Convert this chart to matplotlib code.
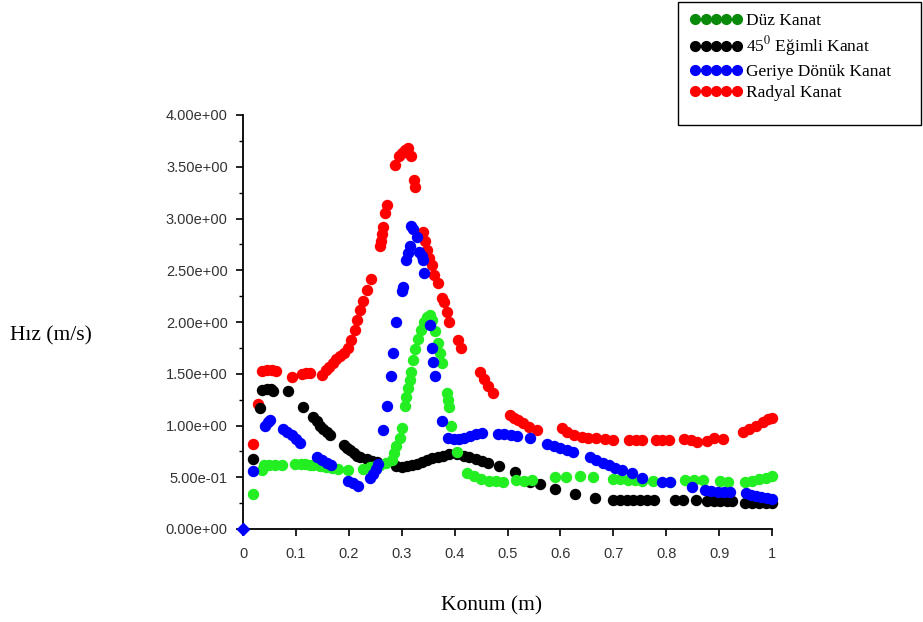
import matplotlib
matplotlib.use("Agg")
import matplotlib.pyplot as plt
from matplotlib.lines import Line2D
from matplotlib.patches import Rectangle
from matplotlib.ticker import FormatStrFormatter, MultipleLocator

plt.rcParams['mathtext.fontset'] = 'stix'

# Radyal Kanat
red_x = [0.018, 0.029, 0.036, 0.045, 0.054, 0.062, 0.092, 0.112, 0.120, 0.127,
         0.149, 0.156, 0.163, 0.170, 0.176, 0.183, 0.190, 0.198, 0.204, 0.211,
         0.216, 0.222, 0.227, 0.234, 0.242, 0.259, 0.261, 0.263, 0.265, 0.268,
         0.272, 0.287, 0.294, 0.300, 0.306, 0.312, 0.318, 0.323, 0.325, 0.340,
         0.344, 0.348, 0.352, 0.358, 0.362, 0.368, 0.376, 0.380, 0.385, 0.390,
         0.407, 0.413, 0.448, 0.455, 0.463, 0.473, 0.505, 0.512, 0.520, 0.530,
         0.540, 0.556, 0.603, 0.612, 0.625, 0.640, 0.652, 0.668, 0.685, 0.700,
         0.730, 0.742, 0.755, 0.780, 0.793, 0.806, 0.833, 0.846, 0.858, 0.878,
         0.890, 0.908, 0.945, 0.957, 0.970, 0.983, 0.993, 1.000]
red_y = [0.82, 1.21, 1.53, 1.54, 1.54, 1.53, 1.47, 1.50, 1.51, 1.51,
         1.49, 1.54, 1.57, 1.60, 1.64, 1.67, 1.70, 1.75, 1.83, 1.92,
         2.02, 2.12, 2.20, 2.31, 2.42, 2.73, 2.78, 2.85, 2.92, 3.05,
         3.13, 3.52, 3.60, 3.63, 3.66, 3.68, 3.60, 3.37, 3.30, 2.87,
         2.78, 2.70, 2.62, 2.55, 2.45, 2.38, 2.23, 2.19, 2.10, 2.00,
         1.83, 1.75, 1.52, 1.45, 1.38, 1.31, 1.10, 1.07, 1.05, 1.02,
         0.99, 0.96, 0.98, 0.94, 0.91, 0.89, 0.88, 0.88, 0.87, 0.86,
         0.86, 0.86, 0.86, 0.86, 0.86, 0.86, 0.87, 0.86, 0.84, 0.85,
         0.88, 0.87, 0.94, 0.97, 1.00, 1.03, 1.06, 1.07]

# 45 derece egimli kanat
black_x = [0.018, 0.032, 0.035, 0.045, 0.052, 0.057, 0.085, 0.114, 0.133, 0.140,
           0.146, 0.152, 0.159, 0.165, 0.190, 0.196, 0.203, 0.209, 0.215, 0.221,
           0.234, 0.244, 0.253, 0.290, 0.300, 0.310, 0.320, 0.328, 0.338, 0.348,
           0.358, 0.368, 0.378, 0.390, 0.404, 0.417, 0.428, 0.440, 0.452, 0.464,
           0.483, 0.514, 0.543, 0.561, 0.590, 0.628, 0.665, 0.700, 0.713, 0.726,
           0.738, 0.751, 0.763, 0.776, 0.817, 0.832, 0.856, 0.877, 0.890, 0.902,
           0.914, 0.924, 0.949, 0.962, 0.975, 0.988, 1.000]
black_y = [0.68, 1.17, 1.34, 1.35, 1.35, 1.33, 1.33, 1.18, 1.08, 1.04,
           1.00, 0.97, 0.94, 0.91, 0.81, 0.78, 0.76, 0.73, 0.71, 0.70,
           0.68, 0.66, 0.65, 0.61, 0.60, 0.61, 0.62, 0.63, 0.65, 0.67,
           0.69, 0.70, 0.71, 0.72, 0.72, 0.71, 0.70, 0.68, 0.66, 0.64,
           0.61, 0.55, 0.45, 0.43, 0.39, 0.34, 0.30, 0.28, 0.28, 0.28,
           0.28, 0.28, 0.28, 0.28, 0.28, 0.28, 0.28, 0.27, 0.27, 0.27,
           0.27, 0.27, 0.25, 0.25, 0.25, 0.25, 0.25]

# Duz kanat
green_x = [0.018, 0.035, 0.040, 0.050, 0.060, 0.073, 0.098, 0.110, 0.118, 0.126,
           0.132, 0.145, 0.156, 0.168, 0.180, 0.199, 0.227, 0.240, 0.250, 0.259,
           0.270, 0.281, 0.286, 0.290, 0.296, 0.301, 0.306, 0.309, 0.312, 0.315,
           0.318, 0.322, 0.326, 0.331, 0.336, 0.342, 0.347, 0.353, 0.358, 0.363,
           0.369, 0.372, 0.376, 0.385, 0.387, 0.390, 0.394, 0.404, 0.423, 0.436,
           0.450, 0.465, 0.479, 0.492, 0.517, 0.532, 0.546, 0.590, 0.610, 0.637,
           0.662, 0.700, 0.713, 0.727, 0.741, 0.755, 0.775, 0.807, 0.836, 0.853,
           0.870, 0.902, 0.917, 0.949, 0.962, 0.975, 0.988, 1.000]
green_y = [0.34, 0.57, 0.62, 0.62, 0.62, 0.62, 0.63, 0.63, 0.63, 0.62,
           0.62, 0.61, 0.60, 0.59, 0.58, 0.57, 0.58, 0.60, 0.61, 0.62,
           0.64, 0.67, 0.73, 0.80, 0.88, 0.98, 1.19, 1.28, 1.36, 1.44,
           1.52, 1.63, 1.74, 1.84, 1.92, 2.00, 2.05, 2.07, 2.02, 1.91,
           1.80, 1.70, 1.60, 1.31, 1.25, 1.18, 1.00, 0.74, 0.54, 0.51,
           0.48, 0.46, 0.46, 0.45, 0.47, 0.46, 0.47, 0.50, 0.50, 0.51,
           0.50, 0.48, 0.48, 0.47, 0.47, 0.46, 0.46, 0.45, 0.47, 0.47,
           0.47, 0.46, 0.45, 0.45, 0.46, 0.48, 0.49, 0.51]

# Geriye donuk kanat
blue_x = [0.018, 0.042, 0.047, 0.051, 0.076, 0.084, 0.092, 0.100, 0.108, 0.139,
          0.150, 0.158, 0.166, 0.199, 0.208, 0.218, 0.240, 0.246, 0.251, 0.255,
          0.265, 0.272, 0.279, 0.284, 0.289, 0.300, 0.303, 0.308, 0.312, 0.315,
          0.318, 0.322, 0.328, 0.333, 0.338, 0.340, 0.343, 0.354, 0.357, 0.360,
          0.363, 0.376, 0.388, 0.398, 0.408, 0.418, 0.430, 0.440, 0.451, 0.482,
          0.494, 0.506, 0.518, 0.543, 0.575, 0.587, 0.600, 0.612, 0.624, 0.656,
          0.668, 0.680, 0.692, 0.704, 0.716, 0.735, 0.754, 0.792, 0.807, 0.848,
          0.873, 0.885, 0.897, 0.909, 0.920, 0.950, 0.960, 0.970, 0.980, 0.990,
          1.000]
blue_y = [0.56, 1.00, 1.03, 1.05, 0.97, 0.94, 0.91, 0.87, 0.83, 0.70,
          0.67, 0.64, 0.62, 0.46, 0.44, 0.42, 0.49, 0.53, 0.58, 0.63,
          0.96, 1.19, 1.48, 1.70, 2.00, 2.30, 2.34, 2.60, 2.67, 2.73,
          2.93, 2.90, 2.82, 2.68, 2.64, 2.60, 2.47, 1.97, 1.75, 1.61,
          1.48, 1.04, 0.88, 0.87, 0.87, 0.88, 0.90, 0.92, 0.93, 0.92,
          0.92, 0.91, 0.90, 0.88, 0.82, 0.80, 0.78, 0.76, 0.74, 0.70,
          0.67, 0.64, 0.62, 0.59, 0.57, 0.54, 0.49, 0.45, 0.45, 0.41,
          0.38, 0.37, 0.36, 0.36, 0.36, 0.35, 0.33, 0.32, 0.31, 0.30,
          0.29]

series_names = ["Düz Kanat", "45$^{\\mathrm{0}}$ Eğimli Kanat",
                "Geriye Dönük Kanat", "Radyal Kanat"]
legend_colors = ["#0a8a0a", "black", "#0000ff", "#ff0000"]

fig = plt.figure(figsize=(9.23, 6.22), dpi=100)
ax = fig.add_axes([243 / 923, 93 / 622, 529 / 923, 414 / 622])

ms = 7.2
ax.plot(red_x, red_y, 'o', color="#ff0000", ms=ms, clip_on=False)
ax.plot(black_x, black_y, 'o', color="black", ms=ms, clip_on=False)
ax.plot(green_x, green_y, 'o', color="#22ee22", ms=ms, clip_on=False)
ax.plot(blue_x, blue_y, 'o', color="#0000ff", ms=ms, clip_on=False)
ax.plot([0], [0], 'D', color="#0000ff", ms=6, clip_on=False, zorder=5)

ax.set_xlim(0, 1)
ax.set_ylim(0, 4)
ax.xaxis.set_major_locator(MultipleLocator(0.1))
ax.xaxis.set_major_formatter(FormatStrFormatter('%g'))
ax.yaxis.set_major_locator(MultipleLocator(0.5))
ax.yaxis.set_minor_locator(MultipleLocator(0.25))
ax.yaxis.set_major_formatter(FormatStrFormatter('%.2e'))

for s in ['top', 'right']:
    ax.spines[s].set_visible(False)
for s in ['left', 'bottom']:
    ax.spines[s].set_linewidth(1.3)

ax.tick_params(axis='both', which='major', length=5, width=1.2,
               labelsize=10.5, colors='black')
ax.tick_params(axis='y', which='minor', length=3, width=1.0)
ax.tick_params(axis='y', pad=6)
ax.tick_params(axis='x', pad=8)
for lab in ax.get_xticklabels() + ax.get_yticklabels():
    lab.set_family('Liberation Sans')
    lab.set_color('#333333')

fig.text(10 / 923, 1 - 336 / 622, "Hız (m/s)", family='Liberation Serif',
         fontsize=15.5, ha='left', va='center')
fig.text(492 / 923, 1 - 606 / 622, "Konum (m)", family='Liberation Serif',
         fontsize=15.5, ha='center', va='center')

# legend box
fig.patches.append(Rectangle((678 / 923, 1 - 125 / 622), 243 / 923, 123 / 622,
                             transform=fig.transFigure, fill=False,
                             edgecolor='black', linewidth=1.0))
handles = [Line2D([], [], ls='none', marker='o', color=c, ms=7)
           for c in legend_colors]
fig.legend(handles, series_names, loc='upper left',
           bbox_to_anchor=(690 / 923, 1 - 13 / 622), frameon=False,
           numpoints=5, handlelength=3.0, handletextpad=0.2,
           labelspacing=0.3, borderaxespad=0, borderpad=0,
           prop={'family': 'Liberation Serif', 'size': 12.5})

fig.savefig("out.png", dpi=100)
